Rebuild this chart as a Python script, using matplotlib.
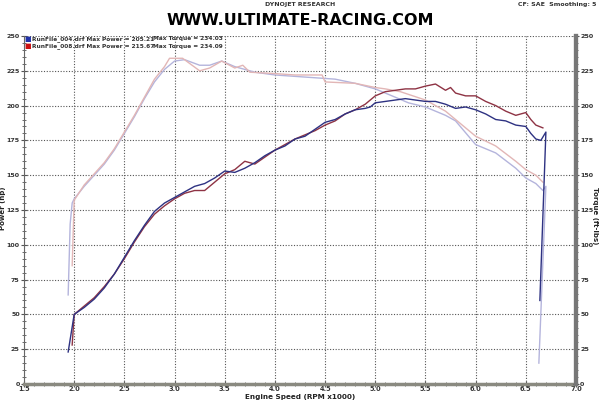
import numpy as np
import matplotlib.pyplot as plt
from matplotlib.ticker import MultipleLocator

# RunFile_004 (blue) - power
rpm_p004 = [1.94, 2.0, 2.1, 2.2, 2.3, 2.4, 2.5, 2.6, 2.7, 2.8, 2.9, 3.0, 3.1, 3.2, 3.3,
            3.4, 3.5, 3.6, 3.7, 3.8, 3.9, 4.0, 4.1, 4.2, 4.3, 4.4, 4.5, 4.6, 4.7, 4.8,
            4.9, 4.95, 5.0, 5.1, 5.2, 5.3, 5.4, 5.5, 5.6, 5.7, 5.8, 5.9, 6.0, 6.1, 6.2,
            6.3, 6.4, 6.5, 6.55, 6.6, 6.65, 6.7, 6.64]
hp_004 = [23, 50, 55, 61, 69, 79, 91, 103, 114, 124, 130, 134, 138, 142, 144,
          148, 153, 152, 155, 159, 164, 168, 171, 176, 178, 183, 188, 190, 194, 197,
          198, 199, 202, 203, 204, 205, 204, 203, 203, 201, 198, 199, 197, 194, 190,
          189, 186, 185, 180, 176, 175, 181, 60]

# RunFile_008 (red) - power
rpm_p008 = [1.98, 2.0, 2.1, 2.2, 2.3, 2.4, 2.5, 2.6, 2.7, 2.8, 2.9, 3.0, 3.1, 3.2, 3.3,
            3.4, 3.5, 3.6, 3.7, 3.8, 3.9, 4.0, 4.1, 4.2, 4.3, 4.4, 4.5, 4.6, 4.7, 4.8,
            4.9, 5.0, 5.1, 5.2, 5.3, 5.4, 5.5, 5.6, 5.7, 5.75, 5.8, 5.9, 6.0, 6.1, 6.2,
            6.3, 6.4, 6.5, 6.55, 6.6, 6.67]
hp_008 = [28, 50, 56, 62, 70, 79, 90, 102, 113, 122, 128, 133, 137, 139, 139,
          145, 151, 154, 160, 158, 163, 168, 172, 176, 179, 182, 186, 189, 194, 197,
          201, 207, 210, 211, 212, 212, 214, 215.5, 211, 213, 209, 207, 207, 203, 200,
          196, 193, 195, 190, 186, 184]

# torque curves (pale)
rpm_t004 = [1.94, 1.96, 1.98, 2.0, 2.1, 2.2, 2.3, 2.4, 2.5, 2.6, 2.7, 2.8, 2.9, 3.0,
            3.1, 3.25, 3.35, 3.47, 3.6, 3.7, 3.8, 4.0, 4.2, 4.4, 4.6, 4.8, 5.0, 5.1,
            5.2, 5.33, 5.5, 5.7, 5.8, 6.0, 6.2, 6.4, 6.5, 6.6, 6.67, 6.7, 6.63]
tq_004 = [64, 115, 130, 133, 142, 150, 158, 168, 180, 192, 205, 217, 226, 232,
          233, 229, 229, 232, 228, 226, 224, 222, 221, 220, 219, 216, 212, 209,
          206, 202, 199, 193, 189, 172, 166, 155, 148, 144, 139, 142, 15]
rpm_t008 = [1.98, 2.0, 2.1, 2.2, 2.3, 2.4, 2.5, 2.6, 2.7, 2.8, 2.9, 2.95, 3.08,
            3.25, 3.35, 3.47, 3.6, 3.68, 3.75, 4.0, 4.2, 4.47, 4.5, 4.8, 5.0, 5.1,
            5.25, 5.5, 5.7, 5.8, 6.0, 6.2, 6.4, 6.5, 6.6, 6.67]
tq_008 = [85, 132, 143, 151, 159, 169, 181, 193, 206, 219, 228, 234, 234,
          225, 227, 232, 227, 229, 224, 223, 222, 222, 217, 216, 213, 212,
          210, 204, 196, 190, 178, 171, 160, 154, 150, 145]

c_blue = "#2e3282"
c_red = "#8e3344"
c_lblue = "#b4b4dc"
c_lred = "#e2b6b6"

fig = plt.figure(figsize=(6, 4), dpi=100)
ax = fig.add_axes([0.04, 0.04, 0.92, 0.87])

ax.plot(rpm_t004, tq_004, color=c_lblue, lw=1)
ax.plot(rpm_t008, tq_008, color=c_lred, lw=1)
ax.plot(rpm_p008, hp_008, color=c_red, lw=1)
ax.plot(rpm_p004, hp_004, color=c_blue, lw=1)

ax.set_xlim(1.5, 7.0)
ax.set_ylim(0, 250)
ax.xaxis.set_major_locator(MultipleLocator(0.5))
ax.xaxis.set_minor_locator(MultipleLocator(0.1))
ax.yaxis.set_major_locator(MultipleLocator(25))
ax.yaxis.set_minor_locator(MultipleLocator(5))
ax.xaxis.set_major_formatter(plt.FuncFormatter(lambda v, p: f"{v:.1f}"))
ax.grid(True, which="major", color="#555555", linestyle=(0, (1, 1.5)), lw=0.8)

ax.spines["top"].set_visible(False)
ax.spines["left"].set_color("#666666")
ax.spines["bottom"].set_color("#8a8a80")
ax.spines["bottom"].set_linewidth(2.5)
ax.spines["right"].set_color("#777777")
ax.spines["right"].set_linewidth(3)

ax.tick_params(which="both", direction="inout", colors="#555555", labelcolor="#333333",
               labelsize=4.6, pad=0.5)
ax.tick_params(axis="x", which="major", length=4, labelsize=4.8, pad=-0.5)
ax.tick_params(axis="y", which="major", length=5)
ax.tick_params(which="minor", length=3)
for t in ax.get_xticklabels() + ax.get_yticklabels():
    t.set_fontweight("bold")

ax2 = ax.twinx()
ax2.set_ylim(0, 250)
ax2.yaxis.set_major_locator(MultipleLocator(25))
ax2.yaxis.set_minor_locator(MultipleLocator(5))
ax2.tick_params(which="both", direction="inout", colors="#555555", labelcolor="#333333",
                labelsize=4.6, pad=0.5)
ax2.tick_params(which="major", length=5)
ax2.tick_params(which="minor", length=3)
for s in ["top", "left", "bottom"]:
    ax2.spines[s].set_visible(False)
ax2.spines["right"].set_color("#777777")
ax2.spines["right"].set_linewidth(3)
for t in ax2.get_yticklabels():
    t.set_fontweight("bold")

# axis titles
fig.text(0.5, 0.0, "Engine Speed (RPM x1000)", ha="center", va="bottom", fontsize=5.2,
         fontweight="bold", color="#222222")
fig.text(0.0, 0.48, "Power (hp)", ha="left", va="center", rotation=90, fontsize=5,
         fontweight="bold", color="#222222")
fig.text(0.992, 0.46, "Torque (ft-lbs)", ha="center", va="center", rotation=-90,
         fontsize=5, fontweight="bold", color="#222222")

# legend-like header
fig.text(0.040, 0.897, "\u25A0", color="#2233aa", fontsize=5)
fig.text(0.040, 0.879, "\u25A0", color="#cc1111", fontsize=5)
rows = [("RunFile_004.drf Max Power = 205.21", "Max Torque = 234.03", 0.899),
        ("RunFile_008.drf Max Power = 215.67", "Max Torque = 234.09", 0.881)]
for a, b, y in rows:
    fig.text(0.053, y, a, fontsize=4.2, fontweight="bold", color="#333333")
    fig.text(0.255, y, b, fontsize=4.2, fontweight="bold", color="#333333")

fig.text(0.5, 0.995, "DYNOJET RESEARCH", ha="center", va="top", fontsize=4.5,
         fontweight="bold", color="#333333")
fig.text(0.995, 0.995, "CF: SAE  Smoothing: 5", ha="right", va="top", fontsize=4.5,
         fontweight="bold", color="#333333")
fig.text(0.5, 0.948, "WWW.ULTIMATE-RACING.COM", ha="center", va="center", fontsize=11.5,
         fontweight="bold", color="black")

fig.savefig("out.png", dpi=100)
